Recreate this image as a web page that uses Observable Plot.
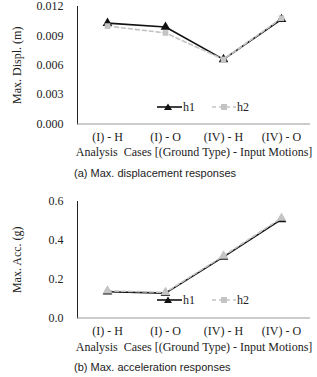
<!DOCTYPE html>
<html><head><meta charset="utf-8">
<script src="https://cdn.jsdelivr.net/npm/d3@7"></script>
<script src="https://cdn.jsdelivr.net/npm/@observablehq/plot@0.6"></script>
<style>
body{margin:0;background:#fff;}
#wrap{position:relative;width:317px;height:377px;overflow:hidden;background:#fff;}
.chart{position:absolute;left:0;}
.chart text{font-family:"Liberation Serif","Times New Roman",serif !important;font-size:12px !important;}
.cap{position:absolute;font-family:"Liberation Sans",Arial,sans-serif;font-size:11px;color:#222;white-space:nowrap;}
.leg{position:absolute;font-family:"Liberation Serif","Times New Roman",serif;font-size:12px;color:#222;}
.leg svg{position:absolute;left:0;top:-5px;overflow:visible;}
.leg span{position:absolute;white-space:nowrap;line-height:14px;}
</style></head>
<body><div id="wrap"></div>
<script>
const cases = ["(I) - H", "(I) - O", "(IV) - H", "(IV) - O"];
const seriesNames = ["h1", "h2"];
const displH1 = [0.0103, 0.0099, 0.0066, 0.0107];
const displH2 = [0.0100, 0.0093, 0.0066, 0.0108];
const accH1 = [0.135, 0.128, 0.315, 0.508];
const accH2 = [0.140, 0.132, 0.320, 0.515];
const displTicks = [0, 0.003, 0.006, 0.009, 0.012];
const accTicks = [0, 0.2, 0.4, 0.6];
const xTitle = "Analysis  Cases [(Ground Type) - Input Motions]";
const captionA = "(a) Max. displacement responses";
const captionB = "(b) Max. acceleration responses";
const yTitleA = "Max. Displ. (m)";
const yTitleB = "Max. Acc. (g)";

const serif = "'Liberation Serif','Times New Roman',serif";
const wrap = document.getElementById("wrap");

function rows(vals, name){ return cases.map((c,i)=>({case:c, value:vals[i], series:name})); }

function makeChart(h1, h2, ticks, fmt, yTitle, height, marginTop, plotH, titleDy, h2Symbol){
  const d1 = rows(h1, seriesNames[0]), d2 = rows(h2, seriesNames[1]);
  const marginBottom = height - marginTop - plotH;
  return Plot.plot({
    width: 317, height, marginLeft: 77, marginRight: 7, marginTop, marginBottom,
    style: {fontFamily: serif, fontSize: "12px", color: "#222", background: "transparent"},
    x: {type: "point", domain: cases, padding: 0.5, label: null, tickSize: 0, tickPadding: 8},
    y: {domain: [ticks[0], ticks[ticks.length-1]], ticks, tickFormat: fmt, label: null, tickSize: 0, tickPadding: 14, line: true},
    marks: [
      Plot.ruleY([ticks[0]], {stroke: "#999", strokeWidth: 1}),
      Plot.line(d1, {x: "case", y: "value", stroke: "#111", strokeWidth: 1.6}),
      Plot.dot(d1, {x: "case", y: "value", symbol: "triangle", fill: "#111", r: 3.6}),
      Plot.line(d2, {x: "case", y: "value", stroke: "#c4c4c4", strokeWidth: 1.6, strokeDasharray: "4,3"}),
      Plot.dot(d2, {x: "case", y: "value", symbol: h2Symbol, fill: "#c4c4c4", r: h2Symbol === "square" ? 3.2 : 3.6}),
      Plot.text([xTitle], {frameAnchor: "bottom", dy: titleDy, fill: "#222"}),
      Plot.text([yTitle], {frameAnchor: "left", textAnchor: "middle", rotate: -90, dx: -60, fill: "#222"})
    ]
  });
}

function place(el, top){
  el.classList.add("chart"); el.style.top = top + "px";
  wrap.appendChild(el);
}

function legend(top){
  const d = document.createElement("div");
  d.className = "leg"; d.style.left = "0px"; d.style.top = top + "px";
  d.innerHTML =
    `<svg width="317" height="10" viewBox="0 -5 317 10">
      <line x1="157" x2="182" y1="0" y2="0" stroke="#111" stroke-width="1.6"/>
      <path d="M168,-3.5L172,3L164,3Z" fill="#111"/>
      <line x1="212" x2="236" y1="0" y2="0" stroke="#c4c4c4" stroke-width="1.6" stroke-dasharray="4,3"/>
      <rect x="221" y="-3" width="6" height="6" fill="#c4c4c4"/>
    </svg>
    <span style="left:183px;top:-7px">${seriesNames[0]}</span>
    <span style="left:237px;top:-7px">${seriesNames[1]}</span>`;
  wrap.appendChild(d);
}

function caption(text, top){
  const d = document.createElement("div");
  d.className = "cap"; d.textContent = text; d.style.left = "74px"; d.style.top = top + "px";
  wrap.appendChild(d);
}

// Chart (a)
const a = makeChart(displH1, displH2, displTicks, d3.format(".3f"), yTitleA, 170, 6, 117.5, 32, "square");
place(a, 0);
legend(107);
caption(captionA, 167);

// Chart (b)
const b = makeChart(accH1, accH2, accTicks, d3.format(".1f"), yTitleB, 174, 16, 116.5, 32.5, "triangle");
place(b, 185);
legend(300);
caption(captionB, 361);
</script></body></html>
